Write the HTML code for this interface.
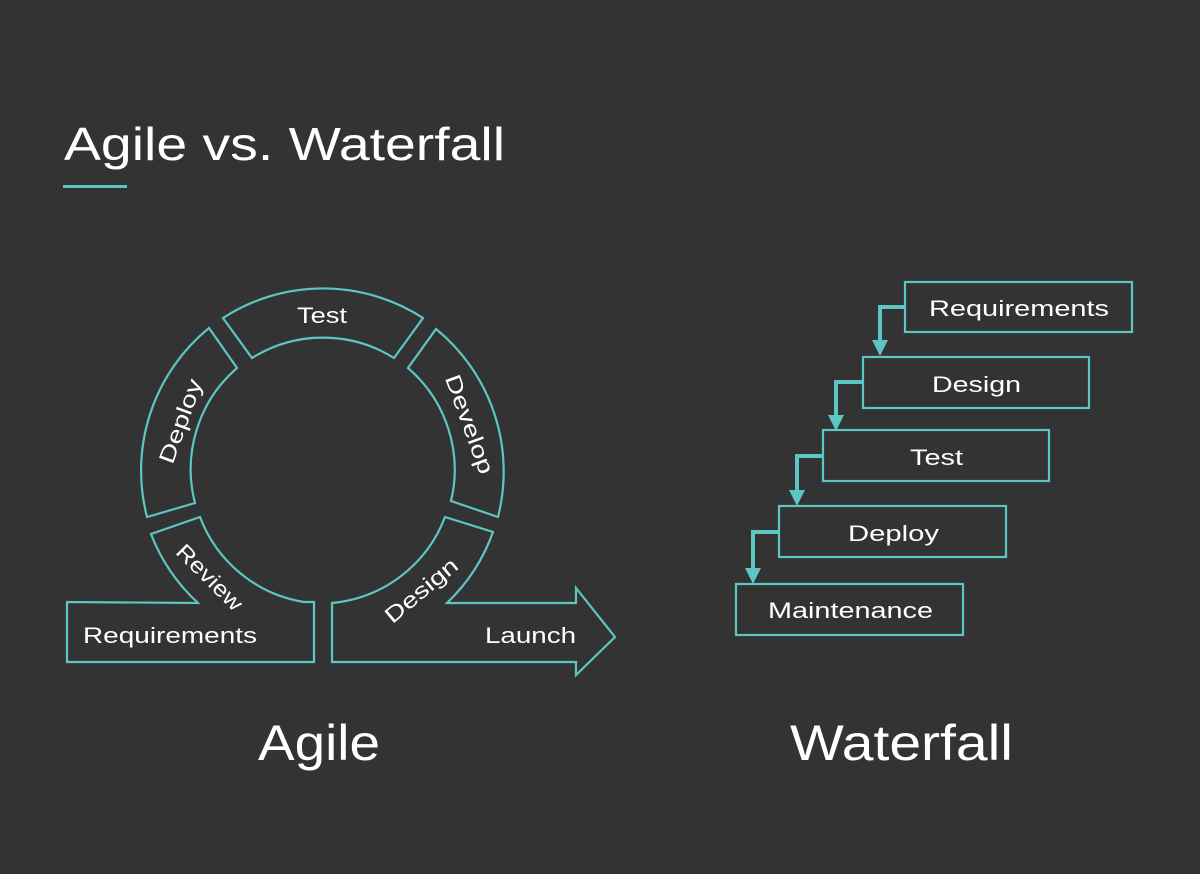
<!DOCTYPE html>
<html><head><meta charset="utf-8"><style>
html,body{margin:0;padding:0;background:#333333;}
svg{display:block}
text{font-family:"Liberation Sans",sans-serif;fill:#fff}
</style></head><body>
<svg width="1200" height="874" viewBox="0 0 1200 874" xmlns="http://www.w3.org/2000/svg">
<rect width="1200" height="874" fill="#333333"/>
<text x="64" y="160" font-size="46" textLength="441" lengthAdjust="spacingAndGlyphs">Agile vs. Waterfall</text>
<rect x="63" y="185" width="64" height="3" fill="#5cc6c3"/>
<g fill="none" stroke="#5cc6c3" stroke-width="2.2" stroke-linejoin="miter">
<path d="M223,318 A184,184 0 0 1 423,318 L394,358 A134,134 0 0 0 252,358 Z"/>
<path d="M209,328 A184,184 0 0 0 147,517 L195,503 A134,134 0 0 1 237,368 Z"/>
<path d="M436,329 A184,184 0 0 1 498,517 L451,501 A134,134 0 0 0 408,368 Z"/>
<path d="M151,534 A184,184 0 0 0 198,603 L67,602 L67,662 L314,662 L314,602 L304,602 A134,134 0 0 1 200,517 Z"/>
<path d="M445,517 L493,532 A184,184 0 0 1 447,603 L576,603 L576,588 L615,637 L576,675 L576,662 L332,662 L332,603 A134,134 0 0 0 445,517 Z"/>
</g>
<g font-size="22" lengthAdjust="spacingAndGlyphs">
<text x="297" y="323" textLength="50" lengthAdjust="spacingAndGlyphs">Test</text>
<text transform="translate(180,421) rotate(-70)" x="-44" dy="8" textLength="88" lengthAdjust="spacingAndGlyphs">Deploy</text>
<text transform="translate(470,424) rotate(70)" x="-52" dy="8" textLength="104" lengthAdjust="spacingAndGlyphs">Develop</text>
<text transform="translate(210,577) rotate(45)" x="-42" dy="8" textLength="84" lengthAdjust="spacingAndGlyphs">Review</text>
<text transform="translate(421,590) rotate(-40)" x="-44" dy="8" textLength="88" lengthAdjust="spacingAndGlyphs">Design</text>
<text x="83" y="643" textLength="174" lengthAdjust="spacingAndGlyphs">Requirements</text>
<text x="485" y="643" textLength="91" lengthAdjust="spacingAndGlyphs">Launch</text>
</g>
<g fill="none" stroke="#5cc6c3" stroke-width="2.2">
<rect x="905" y="282" width="227" height="50"/>
<rect x="863" y="357" width="226" height="51"/>
<rect x="823" y="430" width="226" height="51"/>
<rect x="779" y="506" width="227" height="51"/>
<rect x="736" y="584" width="227" height="51"/>
</g>
<g fill="none" stroke="#5cc6c3" stroke-width="4">
<path d="M905,307 H880 V344"/>
<path d="M863,382 H836 V419"/>
<path d="M823,456 H797 V494"/>
<path d="M779,532 H753 V572"/>
</g>
<g fill="#5cc6c3">
<polygon points="872,340 888,340 880,356"/>
<polygon points="828,415 844,415 836,431"/>
<polygon points="789,490 805,490 797,506"/>
<polygon points="745,568 761,568 753,584"/>
</g>
<g font-size="22">
<text x="929" y="316" textLength="180" lengthAdjust="spacingAndGlyphs">Requirements</text>
<text x="932" y="392" textLength="89" lengthAdjust="spacingAndGlyphs">Design</text>
<text x="910" y="465" textLength="53" lengthAdjust="spacingAndGlyphs">Test</text>
<text x="848" y="541" textLength="91" lengthAdjust="spacingAndGlyphs">Deploy</text>
<text x="768" y="618" textLength="165" lengthAdjust="spacingAndGlyphs">Maintenance</text>
</g>
<text x="258" y="760" font-size="50" textLength="122" lengthAdjust="spacingAndGlyphs">Agile</text>
<text x="790" y="760" font-size="50" textLength="223" lengthAdjust="spacingAndGlyphs">Waterfall</text>
</svg>
</body></html>
